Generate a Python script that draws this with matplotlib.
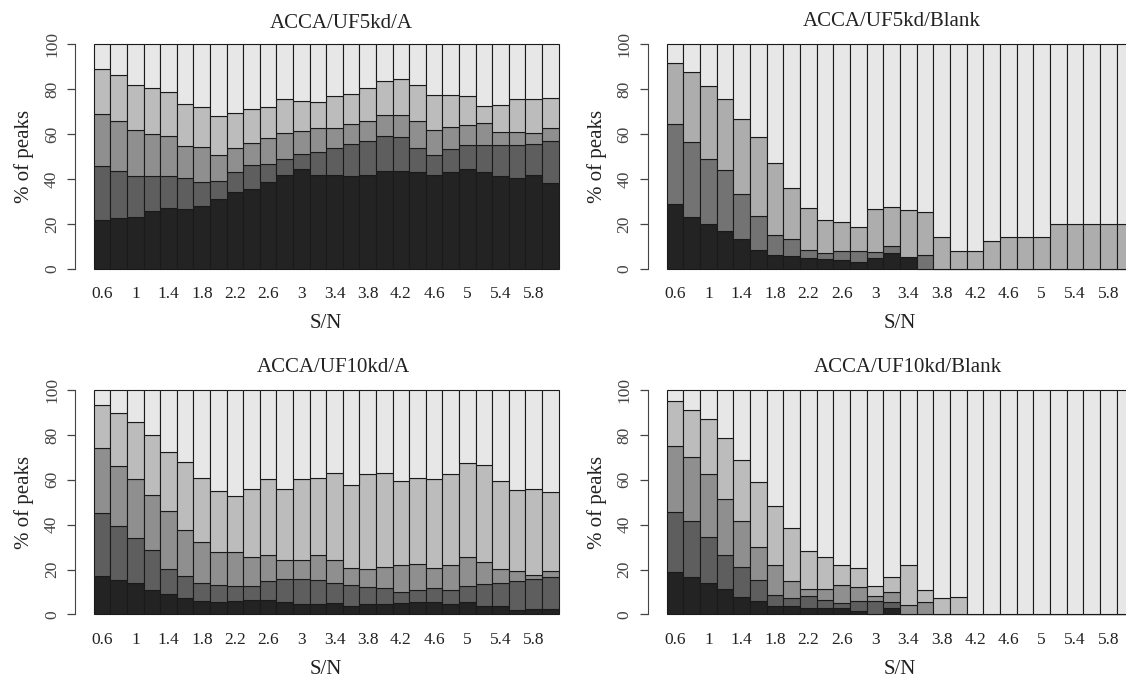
import matplotlib
matplotlib.use('Agg')
import matplotlib.pyplot as plt

plt.rcParams['font.family'] = ['Liberation Serif', 'DejaVu Serif']
plt.rcParams['text.color'] = '#222222'
plt.rcParams['axes.labelcolor'] = '#222222'
plt.rcParams['xtick.color'] = '#222222'
plt.rcParams['ytick.color'] = '#444444'

# S/N thresholds (one bar each)
sn = [0.6, 0.8, 1.0, 1.2, 1.4, 1.6, 1.8, 2.0, 2.2, 2.4, 2.6, 2.8, 3.0, 3.2,
      3.4, 3.6, 3.8, 4.0, 4.2, 4.4, 4.6, 4.8, 5.0, 5.2, 5.4, 5.6, 5.8, 6.0]
sn_labels = ['%g' % v for v in sn]

# ACCA/UF5kd/A  (% of peaks per class, bottom to top)
uf5_a_1 = [21.7, 22.6, 23.2, 25.6, 26.9, 26.6, 27.9, 30.9, 34.2, 35.5, 38.8, 41.9, 44.3, 41.8,
           41.8, 41.5, 41.6, 43.5, 43.5, 43.2, 41.8, 43.2, 44.3, 43.1, 41.3, 40.6, 41.6, 38.0]
uf5_a_2 = [23.9, 20.8, 18.1, 15.7, 14.4, 13.8, 10.9, 8.2, 9.0, 10.6, 7.9, 6.8, 6.7, 10.4,
           12.0, 14.2, 15.2, 15.6, 15.1, 10.7, 8.7, 10.1, 10.8, 12.0, 13.7, 14.4, 14.0, 18.9]
uf5_a_3 = [23.2, 22.6, 20.4, 18.9, 17.7, 14.3, 15.4, 11.7, 10.7, 9.8, 11.5, 11.9, 10.5, 10.7,
           9.1, 8.9, 9.0, 9.3, 9.8, 11.8, 11.3, 9.9, 8.9, 9.8, 6.1, 6.1, 5.0, 6.0]
uf5_a_4 = [20.1, 20.5, 20.0, 20.3, 19.8, 18.6, 18.0, 17.3, 15.6, 15.1, 13.7, 15.2, 13.4, 11.5,
           14.2, 13.1, 14.6, 15.3, 16.0, 16.3, 15.5, 14.2, 12.8, 7.6, 12.0, 14.7, 15.2, 13.3]
uf5_a_5 = [11.1, 13.5, 18.3, 19.5, 21.2, 26.7, 27.8, 31.9, 30.5, 29.0, 28.1, 24.2, 25.1, 25.6,
           22.9, 22.3, 19.6, 16.3, 15.6, 18.0, 22.7, 22.6, 23.2, 27.5, 26.9, 24.2, 24.2, 23.8]

# ACCA/UF5kd/Blank
uf5_b_1 = [28.9, 23.2, 20.1, 16.7, 13.4, 8.2, 6.1, 5.7, 4.8, 4.2, 3.9, 3.1, 4.8, 6.8,
           5.1, 0, 0, 0, 0, 0, 0, 0, 0, 0, 0, 0, 0, 0]
uf5_b_2 = [35.6, 33.3, 28.8, 27.4, 19.7, 15.3, 9.1, 7.4, 3.7, 2.8, 4.1, 4.6, 2.5, 3.3,
           0, 6.0, 0, 0, 0, 0, 0, 0, 0, 0, 0, 0, 0, 0]
uf5_b_3 = [27.3, 31.1, 32.5, 31.6, 33.4, 35.4, 31.9, 22.7, 18.5, 14.5, 13.0, 10.7, 19.4, 17.2,
           21.1, 19.2, 14.1, 7.9, 7.9, 12.5, 14.1, 14.1, 14.1, 20.0, 20.0, 20.0, 20.0, 20.0]
uf5_b_4 = [8.2, 12.4, 18.6, 24.3, 33.5, 41.1, 52.9, 64.2, 73.0, 78.5, 79.0, 81.6, 73.3, 72.7,
           73.8, 74.8, 85.9, 92.1, 92.1, 87.5, 85.9, 85.9, 85.9, 80.0, 80.0, 80.0, 80.0, 80.0]

# ACCA/UF10kd/A
uf10_a_1 = [17.1, 15.3, 13.8, 10.9, 8.9, 7.1, 5.8, 5.4, 5.8, 6.4, 6.5, 5.7, 4.5, 4.5,
            5.2, 3.9, 4.5, 4.5, 5.1, 5.5, 5.7, 4.8, 5.4, 3.9, 3.9, 2.1, 2.2, 2.4]
uf10_a_2 = [28.3, 24.1, 20.3, 17.7, 11.5, 10.0, 8.3, 7.5, 7.0, 6.1, 8.2, 10.1, 11.4, 10.7,
            8.8, 9.2, 7.6, 7.3, 4.9, 5.5, 6.2, 6.2, 7.1, 9.8, 10.2, 12.9, 13.6, 14.3]
uf10_a_3 = [28.7, 26.7, 26.3, 24.8, 25.6, 20.7, 18.3, 14.9, 15.0, 13.1, 11.8, 8.3, 8.2, 11.1,
            10.1, 7.7, 8.3, 9.2, 12.2, 11.6, 8.7, 10.9, 12.9, 9.7, 6.3, 4.3, 1.9, 2.6]
uf10_a_4 = [19.1, 23.8, 25.3, 26.4, 26.3, 30.1, 28.3, 27.0, 25.0, 30.2, 33.8, 32.0, 36.3, 34.6,
            38.7, 36.8, 42.0, 41.8, 37.2, 38.0, 39.8, 40.6, 41.9, 43.4, 39.0, 36.1, 38.1, 35.3]
uf10_a_5 = [6.8, 10.1, 14.3, 20.2, 27.7, 32.1, 39.3, 45.2, 47.2, 44.2, 39.7, 43.9, 39.6, 39.1,
            37.2, 42.4, 37.6, 37.2, 40.6, 39.4, 39.6, 37.5, 32.7, 33.2, 40.6, 44.6, 44.2, 45.4]

# ACCA/UF10kd/Blank
uf10_b_1 = [18.9, 16.7, 13.8, 11.3, 7.6, 6.0, 3.9, 3.6, 3.0, 3.0, 3.0, 1.5, 0, 3.0,
            0, 0, 0, 0, 0, 0, 0, 0, 0, 0, 0, 0, 0, 0]
uf10_b_2 = [26.8, 24.8, 20.7, 15.0, 13.7, 9.3, 4.6, 3.8, 5.2, 3.3, 2.1, 4.5, 6.0, 2.5,
            0, 0, 0, 0, 0, 0, 0, 0, 0, 0, 0, 0, 0, 0]
uf10_b_3 = [29.3, 28.7, 27.9, 25.0, 20.1, 14.8, 13.5, 7.5, 3.0, 4.9, 7.8, 6.2, 2.2, 4.5,
            4.3, 5.4, 0, 0, 0, 0, 0, 0, 0, 0, 0, 0, 0, 0]
uf10_b_4 = [20.2, 20.7, 24.5, 27.4, 27.6, 28.7, 26.4, 23.6, 16.9, 14.4, 9.1, 8.3, 4.3, 6.7,
            17.6, 5.3, 7.3, 7.7, 0, 0, 0, 0, 0, 0, 0, 0, 0, 0]
uf10_b_5 = [4.8, 9.1, 13.1, 21.3, 31.0, 41.2, 51.6, 61.5, 71.9, 74.4, 78.0, 79.5, 87.5, 83.3,
            78.1, 89.3, 92.7, 92.3, 100, 100, 100, 100, 100, 100, 100, 100, 100, 100]

greys5 = ['#232323', '#5e5e5e', '#8f8f8f', '#bcbcbc', '#e7e7e7']
greys4 = ['#232323', '#737373', '#adadad', '#e7e7e7']

W, H = 1126, 679
fig = plt.figure(figsize=(W / 100, H / 100), dpi=100)
fig.patch.set_facecolor('white')

# (title, series, colours, axes left px, bar width px, axes top px, title x px, title y px)
panels = [
    ('ACCA/UF5kd/A', [uf5_a_1, uf5_a_2, uf5_a_3, uf5_a_4, uf5_a_5], greys5, 75.3, 16.6, 44.3, 341, 23),
    ('ACCA/UF5kd/Blank', [uf5_b_1, uf5_b_2, uf5_b_3, uf5_b_4], greys4, 648, 16.67, 44.3, 892, 22),
    ('ACCA/UF10kd/A', [uf10_a_1, uf10_a_2, uf10_a_3, uf10_a_4, uf10_a_5], greys5, 75.3, 16.6, 390, 333, 367),
    ('ACCA/UF10kd/Blank', [uf10_b_1, uf10_b_2, uf10_b_3, uf10_b_4, uf10_b_5], greys5, 648, 16.67, 390, 908, 367),
]

n = len(sn)
pad = 0.04 * n
for title, series, cols, left, bw, top, tx, ty in panels:
    width_px = (n + 2 * pad) * bw
    height_px = 224.4
    ax = fig.add_axes([left / W, 1 - (top + height_px) / H, width_px / W, height_px / H])
    x = list(range(n))
    bottom = [0.0] * n
    for vals, c in zip(series, cols):
        ax.bar(x, vals, bottom=bottom, width=1, align='edge', color=c,
               edgecolor='#1a1a1a', linewidth=0.8, clip_on=False)
        bottom = [b + v for b, v in zip(bottom, vals)]
    ax.set_xlim(-pad, n + pad)
    ax.set_ylim(0, 100)
    for s in ['top', 'right', 'bottom']:
        ax.spines[s].set_visible(False)
    ax.spines['left'].set_bounds(0, 100)
    ax.spines['left'].set_color('#444444')
    ax.set_yticks([0, 20, 40, 60, 80, 100])
    ax.tick_params(axis='y', length=6, width=0.9, pad=5, labelsize=12.5, labelrotation=90)
    for lab in ax.get_yticklabels():
        lab.set_va('center')
    ax.set_xticks([i + 0.5 for i in range(0, n, 2)])
    ax.set_xticklabels(sn_labels[::2])
    ax.tick_params(axis='x', length=0, pad=12.5, labelsize=12.5)
    ax.set_ylabel('% of peaks', fontsize=15, va='center')
    ax.yaxis.set_label_coords(-0.102, 0.5)
    ax.set_xlabel('S/N', fontsize=15, va='center')
    ax.xaxis.set_label_coords(0.5, -0.245)
    ax.patch.set_visible(False)
    fig.text(tx / W, 1 - ty / H, title, ha='center', va='center', fontsize=15)

fig.savefig('out.png', dpi=100)
